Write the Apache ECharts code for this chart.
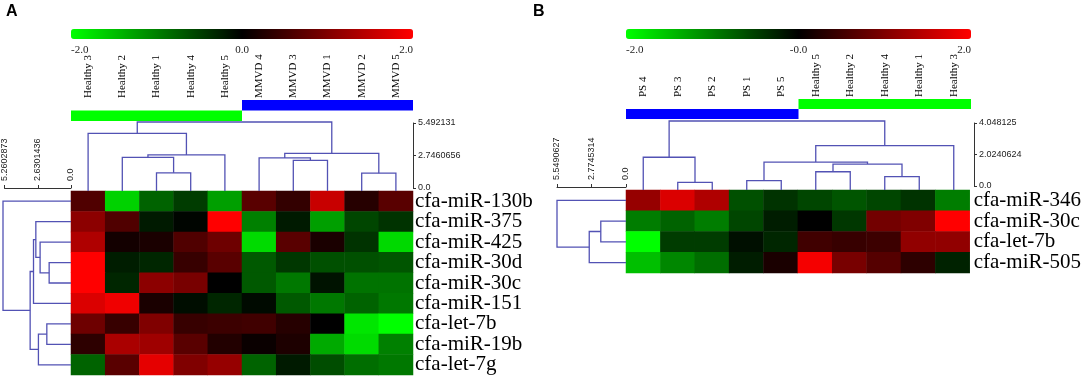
<!DOCTYPE html>
<html>
<head>
<meta charset="utf-8">
<script src="https://cdn.jsdelivr.net/npm/echarts@6/dist/echarts.min.js"></script>
<style>
  html, body { margin: 0; padding: 0; background: #fff; }
  #chart { width: 1084px; height: 382px; }
</style>
</head>
<body>
<div id="chart"></div>
<script>
// ---- panel A data ----
const samplesA = ['Healthy 3', 'Healthy 2', 'Healthy 1', 'Healthy 4', 'Healthy 5', 'MMVD 4', 'MMVD 3', 'MMVD 1', 'MMVD 2', 'MMVD 5'];
const groupsA = ['Healthy', 'Healthy', 'Healthy', 'Healthy', 'Healthy', 'MMVD', 'MMVD', 'MMVD', 'MMVD', 'MMVD'];
const mirnasA = ['cfa-miR-130b', 'cfa-miR-375', 'cfa-miR-425', 'cfa-miR-30d', 'cfa-miR-30c', 'cfa-miR-151', 'cfa-let-7b', 'cfa-miR-19b', 'cfa-let-7g'];
const exprA = [
  [0.63, -1.65, -0.78, -0.47, -1.25, 0.7, 0.4, 1.57, 0.3, 0.7],
  [1.1, 0.63, -0.2, -0.04, 2.0, -1.0, -0.2, -1.25, -0.55, -0.4],
  [1.37, 0.15, 0.2, 0.63, 0.86, -1.72, 0.7, 0.2, -0.4, -1.7],
  [2.0, -0.23, -0.3, 0.43, 0.7, -0.7, -0.43, -0.63, -0.63, -0.67],
  [2.0, -0.3, 1.1, 0.94, 0.0, -0.7, -0.94, -0.15, -0.9, -0.9],
  [1.72, 1.88, 0.2, -0.1, -0.3, -0.08, -0.7, -0.94, -0.78, -0.94],
  [0.86, 0.43, 1.0, 0.43, 0.47, 0.5, 0.3, 0.0, -1.8, -2.0],
  [0.35, 1.33, 1.25, 0.7, 0.27, 0.08, 0.23, -1.33, -1.72, -1.0],
  [-0.78, 0.7, 1.8, 1.0, 1.18, -0.78, -0.2, -0.6, -0.86, -0.94]
];
// merges: [left node, right node, height]; nodes >= n are earlier merges
const colTreeA = [[2, 3, 1.45], [1, 10, 2.68], [11, 4, 2.87], [0, 12, 4.58], [6, 7, 2.44], [5, 14, 2.63], [8, 9, 1.42], [15, 16, 3.0], [13, 17, 5.49]];
const rowTreeA = [[3, 4, 1.69], [2, 9, 2.39], [1, 10, 2.72], [11, 5, 2.9], [6, 7, 1.87], [13, 8, 2.52], [12, 14, 3.16], [0, 15, 5.26]];
const colScaleA = ['0.0', '2.7460656', '5.492131'];
const rowScaleA = ['0.0', '2.6301436', '5.2602873'];
const colorTicksA = ['-2.0', '0.0', '2.0'];

// ---- panel B data ----
const samplesB = ['PS 4', 'PS 3', 'PS 2', 'PS 1', 'PS 5', 'Healthy 5', 'Healthy 2', 'Healthy 4', 'Healthy 1', 'Healthy 3'];
const groupsB = ['PS', 'PS', 'PS', 'PS', 'PS', 'Healthy', 'Healthy', 'Healthy', 'Healthy', 'Healthy'];
const mirnasB = ['cfa-miR-346', 'cfa-miR-30c', 'cfa-let-7b', 'cfa-miR-505'];
const exprB = [
  [1.18, 1.72, 1.37, -0.63, -0.4, -0.55, -0.67, -0.55, -0.4, -0.98],
  [-0.98, -0.78, -0.98, -0.55, -0.23, 0.0, -0.43, 0.9, 1.0, 2.0],
  [-2.0, -0.47, -0.47, -0.12, -0.3, 0.5, 0.43, 0.47, 1.14, 1.14],
  [-1.5, -1.06, -0.86, -0.23, 0.2, 1.92, 0.94, 0.67, 0.35, -0.27]
];
const colTreeB = [[1, 2, 0.45], [0, 10, 1.92], [3, 4, 0.55], [5, 6, 1.07], [7, 8, 0.78], [13, 14, 1.52], [12, 15, 1.64], [16, 9, 2.6], [11, 17, 4.048]];
const rowTreeB = [[1, 2, 2.01], [3, 4, 2.93], [0, 5, 5.5]];
const colScaleB = ['0.0', '2.0240624', '4.048125'];
const rowScaleB = ['0.0', '2.7745314', '5.5490627'];
const colorTicksB = ['-2.0', '-0.0', '2.0'];

// ---- styling ----
const SERIF = 'Liberation Serif';
const SANS = 'Liberation Sans';
const treeColor = '#5252b4';
const groupColor = { Healthy: '#00ff00', MMVD: '#0000ff', PS: '#0000ff' };
const laneA = { MMVD: 0, Healthy: 1 };
const laneB = { Healthy: 0, PS: 1 };
const heatColors = ['#00ff00', '#000000', '#ff0000'];

function treeSegs(merges, n) {
  const pos = [], hgt = [];
  for (let i = 0; i < n; i++) { pos.push(i); hgt.push(0); }
  return merges.map(([a, b, h]) => {
    const seg = [pos[a], hgt[a], pos[b], hgt[b], h];
    pos.push((pos[a] + pos[b]) / 2);
    hgt.push(h);
    return seg;
  });
}

function runs(groups) {
  const out = [];
  groups.forEach((g, i) => {
    const last = out[out.length - 1];
    if (last && last[2] === g) last[1] = i; else out.push([i, i, g]);
  });
  return out;
}

function cells(m) {
  return m.flatMap((row, r) => row.map((v, c) => [c, r, v]));
}

const grids = [];
const xAxes = [];
const yAxes = [];
const series = [];
const visualMaps = [];

function addGrid(g) { grids.push(g); return grids.length - 1; }
const hid = (gi, extra) => Object.assign({ type: 'value', gridIndex: gi, show: false, splitLine: { show: false } }, extra || {});

function treeSeries(segs, gi, leavesOnX) {
  return {
    type: 'custom', xAxisIndex: gi, yAxisIndex: gi, silent: true, clip: false,
    data: segs,
    renderItem: (params, api) => {
      const v = [0, 1, 2, 3, 4].map(i => api.value(i));
      const pt = leavesOnX ? (p, h) => api.coord([p, h]) : (p, h) => api.coord([h, p]);
      return {
        type: 'polyline',
        shape: { points: [pt(v[0], v[1]), pt(v[0], v[4]), pt(v[2], v[4]), pt(v[2], v[3])] },
        style: { stroke: treeColor, lineWidth: 1.3, fill: null }
      };
    }
  };
}

function groupSeries(rs, lanes, gi) {
  return {
    type: 'custom', xAxisIndex: gi, yAxisIndex: gi, silent: true,
    data: rs.map(r => [r[0], r[1]]),
    renderItem: (params, api) => {
      const run = rs[params.dataIndex];
      const lane = lanes[run[2]];
      const half = api.size([1, 0])[0] / 2;
      const p0 = api.coord([api.value(0), lane]);
      const p1 = api.coord([api.value(1), lane + 1]);
      return {
        type: 'rect',
        shape: { x: p0[0] - half, y: p0[1], width: p1[0] - p0[0] + 2 * half, height: p1[1] - p0[1] },
        style: { fill: groupColor[run[2]] }
      };
    }
  };
}

const scaleLine = { show: true, lineStyle: { color: '#333', width: 1 } };
const scaleTick = { show: true, length: 3, lineStyle: { color: '#333', width: 1 } };

function buildPanel(p) {
  const n = p.samples.length, m = p.mirnas.length;
  // heatmap
  const gH = addGrid({ left: p.x, top: p.heatTop, width: p.w, height: p.heatH });
  xAxes.push({ type: 'category', gridIndex: gH, data: p.samples, show: false });
  yAxes.push({
    type: 'category', gridIndex: gH, data: p.mirnas, inverse: true, position: 'right',
    axisLine: { show: false }, axisTick: { show: false },
    axisLabel: { interval: 0, fontFamily: SERIF, fontSize: 21, color: '#000', margin: p.labelMargin }
  });
  // column dendrogram
  const colSegs = treeSegs(p.colTree, n);
  const gC = addGrid({ left: p.x, top: p.colTop, width: p.w, height: p.heatTop - p.colTop });
  xAxes.push(hid(gC, { min: -0.5, max: n - 0.5 }));
  yAxes.push(hid(gC, { min: 0, max: p.colTree[p.colTree.length - 1][2] }));
  // row dendrogram
  const rowSegs = treeSegs(p.rowTree, m);
  const gR = addGrid({ left: p.rowLeft, top: p.heatTop, width: p.x - p.rowLeft, height: p.heatH });
  xAxes.push(hid(gR, { min: 0, max: p.rowTree[p.rowTree.length - 1][2], inverse: true }));
  yAxes.push(hid(gR, { min: -0.5, max: m - 0.5, inverse: true }));
  // group bars + sample labels
  const gG = addGrid({ left: p.x, top: p.groupTop, width: p.w, height: p.groupH });
  xAxes.push({
    type: 'category', gridIndex: gG, data: p.samples, position: 'top',
    axisLine: { show: false }, axisTick: { show: false },
    axisLabel: { rotate: 90, interval: 0, fontFamily: SERIF, fontSize: 11, color: '#000', margin: 2 }
  });
  yAxes.push(hid(gG, { min: 0, max: 2, inverse: true }));
  // column distance bracket
  const gCS = addGrid({ left: p.x + p.w + p.bracketDx - 1, top: p.colScaleTop, width: 1, height: p.colScaleH });
  xAxes.push(hid(gCS, { min: 0, max: 1 }));
  yAxes.push({
    type: 'value', gridIndex: gCS, position: 'right', min: 0, max: 2, interval: 1,
    splitLine: { show: false }, axisLine: scaleLine, axisTick: scaleTick,
    axisLabel: { fontFamily: SANS, fontSize: 9, color: '#222', margin: 4, formatter: v => p.colScale[Math.round(v)] }
  });
  // row distance bracket
  const gRS = addGrid({ left: p.rowLeft, top: p.rowScaleY, width: p.x - p.rowLeft, height: 1 });
  xAxes.push({
    type: 'value', gridIndex: gRS, position: 'top', min: 0, max: 2, interval: 1, inverse: true,
    splitLine: { show: false }, axisLine: scaleLine, axisTick: scaleTick,
    axisLabel: { rotate: 90, fontFamily: SANS, fontSize: 9, color: '#222', margin: 6, formatter: v => p.rowScale[Math.round(v)] }
  });
  yAxes.push(hid(gRS, { min: 0, max: 1 }));
  // colour bar tick labels
  const gCB = addGrid({ left: p.x, top: 39, width: p.w, height: 1 });
  xAxes.push({
    type: 'value', gridIndex: gCB, position: 'bottom', min: -2, max: 2, interval: 2,
    splitLine: { show: false }, axisLine: { show: false }, axisTick: { show: false },
    axisLabel: {
      fontFamily: SERIF, fontSize: 11, color: '#222', margin: 5,
      alignMinLabel: 'left', alignMaxLabel: 'right',
      formatter: v => p.colorTicks[Math.round((v + 2) / 2)]
    }
  });
  yAxes.push(hid(gCB, { min: 0, max: 1 }));

  const heatIndex = series.length;
  series.push({
    type: 'heatmap', xAxisIndex: gH, yAxisIndex: gH, data: cells(p.expr),
    emphasis: { disabled: true }, silent: true, progressive: 0
  });
  series.push(treeSeries(colSegs, gC, true));
  series.push(treeSeries(rowSegs, gR, false));
  series.push(groupSeries(runs(p.groups), p.lanes, gG));

  visualMaps.push({
    type: 'continuous', min: -2, max: 2, seriesIndex: heatIndex, dimension: 2,
    orient: 'horizontal', left: p.x, top: 29, itemWidth: 10, itemHeight: p.w,
    calculable: false, padding: 0, text: null, hoverLink: false,
    inRange: { color: heatColors }
  });
}

buildPanel({
  samples: samplesA, groups: groupsA, mirnas: mirnasA, expr: exprA,
  colTree: colTreeA, rowTree: rowTreeA, colScale: colScaleA, rowScale: rowScaleA,
  colorTicks: colorTicksA, lanes: laneA,
  x: 71, w: 342, heatTop: 191, heatH: 184, colTop: 122, rowLeft: 3,
  groupTop: 100, groupH: 21, colScaleTop: 123, colScaleH: 65, rowScaleY: 187, bracketDx: 1, labelMargin: 2
});
buildPanel({
  samples: samplesB, groups: groupsB, mirnas: mirnasB, expr: exprB,
  colTree: colTreeB, rowTree: rowTreeB, colScale: colScaleB, rowScale: rowScaleB,
  colorTicks: colorTicksB, lanes: laneB,
  x: 626, w: 345, heatTop: 190, heatH: 83, colTop: 121, rowLeft: 557,
  groupTop: 99, groupH: 20, colScaleTop: 123, colScaleH: 63, rowScaleY: 186, bracketDx: 4, labelMargin: 4
});

const chart = echarts.init(document.getElementById('chart'));
chart.setOption({
  animation: false,
  textStyle: { fontFamily: SERIF },
  title: [
    { text: 'A', left: 6, top: 4, padding: 0, textStyle: { fontFamily: SANS, fontWeight: 'bold', fontSize: 16, color: '#000' } },
    { text: 'B', left: 533, top: 4, padding: 0, textStyle: { fontFamily: SANS, fontWeight: 'bold', fontSize: 16, color: '#000' } }
  ],
  grid: grids,
  xAxis: xAxes,
  yAxis: yAxes,
  visualMap: visualMaps,
  series: series
});
</script>
</body>
</html>
